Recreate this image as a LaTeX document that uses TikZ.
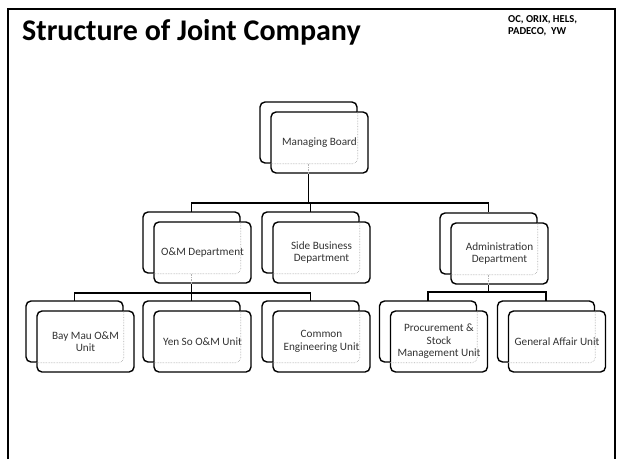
\documentclass[tikz,border=0pt]{standalone}
\usepackage{fontspec}
\setmainfont{Carlito}
\usetikzlibrary{positioning}

\tikzset{
  backbox/.style={draw, line width=1.4pt, fill=white, rounded corners=5pt,
    minimum width=97pt, minimum height=61pt, inner sep=0pt},
  frontbox/.style={backbox, align=center, text=black!80,
    font=\fontsize{11.2pt}{12.5pt}\selectfont},
  hidden/.style={draw=black!30, densely dotted, line width=0.6pt},
  link/.style={line width=1.8pt},
}

% one unit: a back card and a front card shifted down right
\newcommand{\orgunit}[4]{%
  \node[backbox] (#1-b) at (#2,#3) {};
  \node[frontbox] (#1) at ([shift={(11,10)}]#1-b.center) {#4};
  \begin{scope}
    \clip[rounded corners=5pt] (#1.south west) rectangle (#1.north east);
    \draw[hidden, rounded corners=5pt] (#1-b.south west) rectangle (#1-b.north east);
  \end{scope}}

\begin{document}
\begin{tikzpicture}[x=1pt, y=-1pt]
        \useasboundingbox (0,0) rectangle (619,459);
        \draw[line width=2pt] (8,459) -- (8,9) -- (615,9) -- (615,459);

        \node (title) at (22,40) [anchor=base west, inner sep=0pt,
          font=\fontsize{30pt}{33pt}\selectfont\bfseries] {Structure of Joint Company};
        \node (partners) at (508,15.5) [anchor=north west, inner sep=0pt, align=left,
          font=\fontsize{10.6pt}{11.5pt}\selectfont\bfseries] {OC, ORIX, HELS,\\PADECO,\ \ YW};

        \coordinate (bus1) at (0,203);

        \orgunit{mb}{308.5}{132.5}{Managing Board}

        % connectors first, lower cards on top
        \draw[link] (mb-b.south |- mb.south) -- (mb-b.south |- bus1);
        \draw[link] (191.5,212) |- (488.5,203) -- (488.5,212);
        \draw[link] (310.5,203) -- (310.5,212);
        \draw[link] (74.5,301) |- (310.5,293) -- (310.5,301);
        \draw[link] (191.5,282) -- (191.5,301);
        \draw[link] (428,301) |- (546,292) -- (546,301);
        \draw[link] (488.5,285) -- (488.5,292);

        \orgunit{om}{191.5}{242.5}{O\&M Department}
        \orgunit{sb}{310.5}{242.5}{Side Business\\Department}
        \orgunit{ad}{488.5}{243.5}{Administration\\Department}

        \orgunit{bm}{74.5}{331.5}{Bay Mau O\&M\\Unit}
        \orgunit{ys}{191.5}{331.5}{Yen So O\&M Unit}
        \orgunit{ce}{310.5}{331.5}{Common\\Engineering Unit}
        \orgunit{pr}{428}{331.5}{Procurement \&\\Stock\\Management Unit}
        \orgunit{ga}{546}{331.5}{General Affair Unit}

        % stubs hidden behind the front cards
        \draw[hidden] (mb-b.south) -- (mb-b.south |- mb.south);
        \draw[hidden] (om-b.south) -- (om-b.south |- om.south);
        \draw[hidden] (ad-b.south) -- (ad-b.south |- ad.south);
    \end{tikzpicture}
\end{document}
